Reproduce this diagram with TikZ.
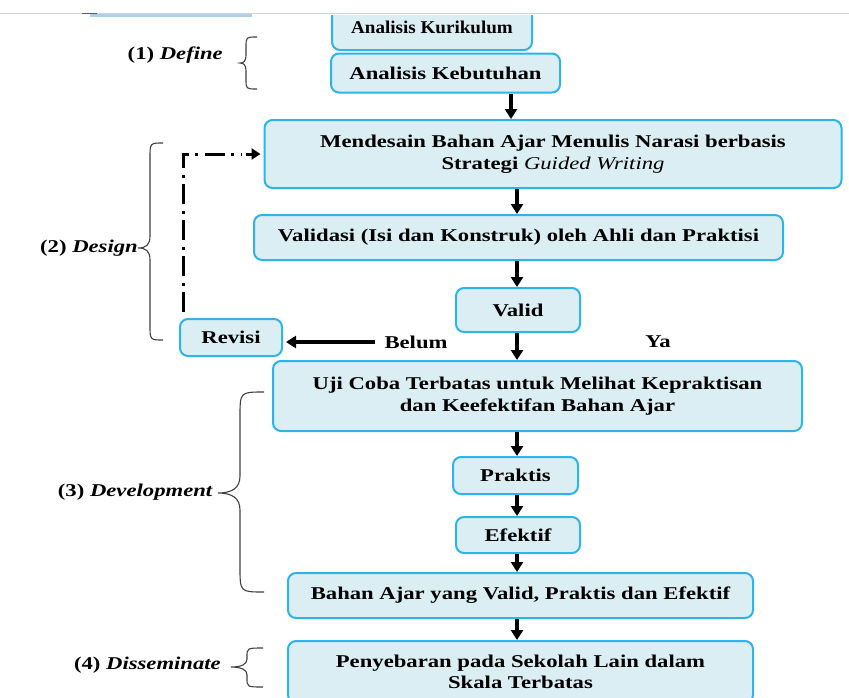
\documentclass[tikz,border=0pt]{standalone}
\usepackage{fontspec}
\setmainfont{Liberation Serif}[FakeStretch=1.26]
\newfontfamily\condfont{Liberation Serif}[FakeStretch=1.06]
\usetikzlibrary{arrows.meta,calc}
\definecolor{boxfill}{HTML}{DAEEF3}
\definecolor{boxline}{HTML}{2FB4E9}
\definecolor{bracecol}{HTML}{404040}
\definecolor{barblue}{HTML}{A8D0F0}
\begin{document}
\begin{tikzpicture}[x=1pt,y=-1pt,
  box/.style={draw=boxline, fill=boxfill, line width=2pt, rounded corners=8pt,
    inner sep=0pt, align=center, font=\bfseries\fontsize{18}{21.5}\selectfont},
  flow/.style={-{Triangle[length=10pt,width=12pt]}, line width=3.2pt},
  lbl/.style={inner sep=0pt, font=\bfseries\fontsize{18}{20}\selectfont},
  bracestyle/.style={draw=bracecol, line width=1.1pt},
  dashdot/.style={line width=3pt, dash pattern=on 20pt off 6pt on 3pt off 7pt}]
\useasboundingbox (0,0) rectangle (849,697);
\fill[white] (0,0) rectangle (849,697);
\begin{scope}
\clip (0,15) rectangle (849,697);
% boxes
\node[box, minimum width=200pt, minimum height=45pt] (kur) at (432,27.5) {\condfont Analisis Kurikulum};
\node[box, minimum width=229pt, minimum height=39pt] (keb) at (445.5,73) {Analisis Kebutuhan};
\node[box, minimum width=577pt, minimum height=68pt] (mend) at (553,154) {Mendesain Bahan Ajar Menulis Narasi berbasis\\Strategi {\mdseries\itshape Guided Writing}};
\node[box, minimum width=529pt, minimum height=45pt] (vali) at (518.5,237.5) {Validasi (Isi dan Konstruk) oleh Ahli dan Praktisi};
\node[box, minimum width=124pt, minimum height=44pt] (valid) at (518,310) {Valid};
\node[box, minimum width=102pt, minimum height=37pt] (rev) at (231,337.5) {Revisi};
\node[box, minimum width=529pt, minimum height=70pt] (uji) at (537.5,396) {Uji Coba Terbatas untuk Melihat Kepraktisan\\dan Keefektifan Bahan Ajar};
\node[box, minimum width=125pt, minimum height=37pt] (prak) at (515.5,475.5) {Praktis};
\node[box, minimum width=124pt, minimum height=36pt] (efek) at (518,535) {Efektif};
\node[box, minimum width=465pt, minimum height=45pt] (bahan) at (520.5,595.5) {Bahan Ajar yang Valid, Praktis dan Efektif};
\node[box, minimum width=465pt, minimum height=62pt] (peny) at (520.5,672) {Penyebaran pada Sekolah Lain dalam\\Skala Terbatas};
\end{scope}
% top page line and fragments
\draw[gray!35, line width=1pt] (0,13.5) -- (849,13.5);
\fill[barblue] (90,14) rectangle (252,17);
\draw[gray!70!black, line width=1pt] (82,13.5) -- (97,13.5);
% arrows
\coordinate (ax1) at (511,0);
\coordinate (ax) at (517,0);
\draw[flow] (keb.south -| ax1) -- (mend.north -| ax1);
\draw[flow] (mend.south -| ax) -- (vali.north -| ax);
\draw[flow] (vali.south -| ax) -- (valid.north -| ax);
\draw[flow] (valid.south -| ax) -- (uji.north -| ax);
\draw[flow] (uji.south -| ax) -- (prak.north -| ax);
\draw[flow] (prak.south -| ax) -- (efek.north -| ax);
\draw[flow] (efek.south -| ax) -- (bahan.north -| ax);
\draw[flow] (bahan.south -| ax) -- (peny.north -| ax);
% decision labels
\node[lbl] (belum) at (416,342) {Belum};
\node[lbl] (ya) at (658,342) {Ya};
\draw[flow] ([xshift=-9pt]belum.west) -- ([xshift=3pt]rev.east |- belum.west);
% revision loop
\coordinate (loopbot) at (183,312);
\draw[dashdot] (loopbot) -- (loopbot |- mend.west) -- ([xshift=-22pt]mend.west);
\draw[-{Triangle[length=9pt,width=11pt]}, line width=3pt] ([xshift=-18pt]mend.west) -- ([xshift=-3pt]mend.west);
% braces
\draw[bracestyle] (257,37) .. controls (246,37) .. (246,47) -- (246,55) .. controls (246,61) and (244,63) .. (240,63)
  .. controls (244,63) and (246,65) .. (246,71) -- (246,79) .. controls (246,89) .. (257,89);
\draw[bracestyle] (163,143) .. controls (150,143) .. (150,158) -- (150,236) .. controls (150,245) and (146,248) .. (138,248)
  .. controls (146,248) and (150,251) .. (150,260) -- (150,325) .. controls (150,340) .. (163,340);
\draw[bracestyle] (264,392) .. controls (240,392) .. (240,417) -- (240,476) .. controls (240,488) and (232,493) .. (218,493)
  .. controls (232,493) and (240,498) .. (240,510) -- (240,567) .. controls (240,592) .. (264,592);
\draw[bracestyle] (263,648) .. controls (247,648) .. (247,657) -- (247,659) .. controls (247,664) and (242,667) .. (231,667)
  .. controls (242,667) and (247,670) .. (247,675) -- (247,678) .. controls (247,687) .. (263,687);
% phase labels
\node[lbl, anchor=east] (p1) at (223,55) {(1) \textit{Define}};
\node[lbl, anchor=east] (p2) at (138,248) {(2) \textit{Design}};
\node[lbl, anchor=east] (p3) at (213,492) {(3) \textit{Development}};
\node[lbl, anchor=east] (p4) at (221,665) {(4) \textit{Disseminate}};
\end{tikzpicture}
\end{document}
